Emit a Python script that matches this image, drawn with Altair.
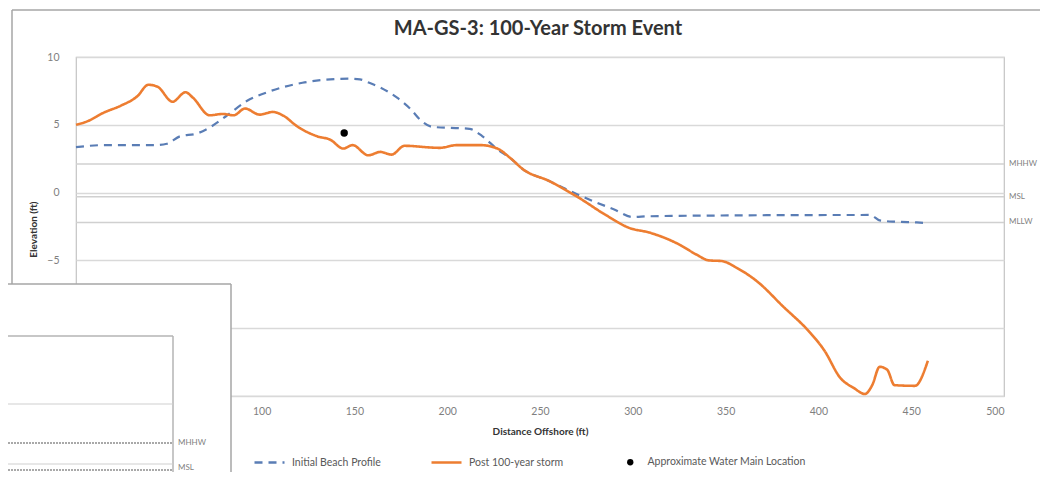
import altair as alt
import pandas as pd

TITLE = "MA-GS-3: 100-Year Storm Event"
X_TITLE = "Distance Offshore (ft)"
Y_TITLE = "Elevation (ft)"

SERIES = ["Initial Beach Profile", "Post 100-year storm"]
SERIES_COLORS = ["#5a7db5", "#ed7d31"]
POINT_LABEL = "Approximate Water Main Location"

INIT_X = [0, 15, 42, 49, 56, 65, 72, 81, 92, 104, 122, 137, 147, 153, 158, 164, 173, 180,
          186, 192, 212, 219, 227, 234, 241, 255, 268, 279, 290, 300, 308, 336, 428, 433,
          442, 453, 459]
INIT_Y = [3.35, 3.5, 3.5, 3.6, 4.15, 4.35, 4.8, 5.65, 6.75, 7.45, 8.1, 8.35, 8.4, 8.35, 8.1,
          7.75, 7.0, 6.2, 5.3, 4.85, 4.7, 4.15, 3.2, 2.55, 1.7, 0.85, 0.0, -0.65, -1.25, -1.8,
          -1.75, -1.7, -1.65, -2.05, -2.15, -2.2, -2.25]

POST_X = [0, 6, 15, 24, 33, 39, 44, 52, 59, 63, 72, 79, 85, 91, 99, 106, 112, 119, 130, 137,
          144, 149, 157.5, 164, 170, 177, 196, 205, 218, 227, 234, 241, 255, 270, 286, 298,
          309, 326, 334, 341, 348, 356, 367, 381, 395, 403, 412, 419, 425, 429, 433, 437,
          441, 452, 459]
POST_Y = [5.0, 5.25, 5.9, 6.4, 7.1, 7.95, 7.8, 6.7, 7.4, 7.0, 5.7, 5.8, 5.7, 6.2, 5.75, 5.95,
          5.65, 4.9, 4.15, 3.9, 3.25, 3.5, 2.75, 3.0, 2.8, 3.45, 3.3, 3.5, 3.5, 3.25, 2.55,
          1.7, 0.85, -0.3, -1.7, -2.6, -2.95, -3.9, -4.55, -5.0, -5.05, -5.55, -6.55, -8.4,
          -10.25, -11.6, -13.7, -14.4, -14.85, -14.2, -12.85, -13.05, -14.2, -14.25, -12.4]

MAIN_X = [144.5]
MAIN_Y = [4.4]

REF_NAMES = ["MHHW", "MSL", "MLLW"]
REF_Y = [2.1, -0.3, -2.2]

X_TICKS = [0, 50, 100, 150, 200, 250, 300, 350, 400, 450, 500]
Y_TICKS = [-15, -10, -5, 0, 5, 10]

INSET_LABELS = ["MHHW", "MSL"]

FONT = "Lato"

lines_df = pd.concat([
    pd.DataFrame({"x": INIT_X, "y": INIT_Y, "series": SERIES[0], "order": range(len(INIT_X))}),
    pd.DataFrame({"x": POST_X, "y": POST_Y, "series": SERIES[1], "order": range(len(POST_X))}),
], ignore_index=True)
point_df = pd.DataFrame({"x": MAIN_X, "y": MAIN_Y, "label": [POINT_LABEL]})
ref_df = pd.DataFrame({"name": REF_NAMES, "y": REF_Y})
one = pd.DataFrame({"k": [0]})
title_df = pd.DataFrame({"t": [TITLE]})

x_enc = alt.X(
    "x:Q",
    scale=alt.Scale(domain=[0, 500], nice=False, zero=False),
    axis=alt.Axis(values=X_TICKS, title=X_TITLE, grid=False, domain=False, ticks=False,
                  tickSize=0, labelPadding=10, labelFontSize=10.5, labelColor="#7f7f7f",
                  labelFont=FONT, titleFont=FONT, titleFontSize=10, titleFontWeight="bold",
                  titleColor="#333333", titlePadding=10),
)
y_enc = alt.Y(
    "y:Q",
    scale=alt.Scale(domain=[-15, 10], nice=False, zero=False),
    axis=alt.Axis(values=Y_TICKS, title=Y_TITLE, grid=True, gridColor="#d9d9d9",
                  gridWidth=1.5, domain=False, ticks=False, tickSize=0, labelPadding=17,
                  labelFontSize=10.5, labelColor="#7f7f7f", labelFont=FONT, titleFont=FONT,
                  titleFontSize=10, titleFontWeight="bold", titleColor="#333333",
                  titleX=-38, titleY=172),
)

line_legend = alt.Legend(
    title=None, orient="none", legendX=177, legendY=389, direction="horizontal",
    symbolType="stroke", symbolSize=900, symbolStrokeWidth=2.5, labelFontSize=10.5,
    labelColor="#595959", labelFont=FONT, labelOffset=6, columnPadding=45, padding=0,
    labelLimit=300,
)

GRAY_BORDER = "#a6a6a6"
INSET_LEFT = -200


def hrule(x1, x2, y, color, width=1.5, dash=None):
    kw = dict(color=color, strokeWidth=width)
    if dash is not None:
        kw["strokeDash"] = dash
    return alt.Chart(one).mark_rule(**kw).encode(x=alt.value(x1), x2=alt.value(x2), y=alt.value(y))


def vrule(x, y1, y2, color, width=1.5):
    return alt.Chart(one).mark_rule(color=color, strokeWidth=width).encode(
        x=alt.value(x), y=alt.value(y1), y2=alt.value(y2))


# outer chart-area border (top and left edges visible)
outer_top = hrule(-64, 1100, -47, GRAY_BORDER)
outer_left = vrule(-64, -47, 227, GRAY_BORDER)

ref_rules = alt.Chart(ref_df).mark_rule(color="#d0d0d0", strokeWidth=1.5).encode(y=y_enc)
ref_text = alt.Chart(ref_df).mark_text(
    align="left", baseline="middle", dx=5, fontSize=8, font=FONT, color="#7f7f7f"
).encode(x=alt.datum(500), y=y_enc, text="name:N")

lines = alt.Chart(lines_df).mark_line(interpolate="monotone").encode(
    x=x_enc,
    y=y_enc,
    order="order:Q",
    stroke=alt.Stroke("series:N", scale=alt.Scale(domain=SERIES, range=SERIES_COLORS),
                      legend=line_legend),
    strokeDash=alt.StrokeDash("series:N", scale=alt.Scale(domain=SERIES, range=[[8, 6], [1, 0]]),
                              legend=line_legend),
    strokeWidth=alt.condition(alt.datum.series == SERIES[0], alt.value(2.2), alt.value(2.6)),
)

point = alt.Chart(point_df).mark_circle(size=55, opacity=1).encode(
    x=x_enc,
    y=y_enc,
    fill=alt.Fill("label:N", scale=alt.Scale(domain=[POINT_LABEL], range=["#000000"]),
                  legend=alt.Legend(title=None, orient="none", legendX=549, legendY=400,
                                    direction="horizontal", symbolType="circle", symbolSize=40,
                                    symbolStrokeWidth=0, labelFontSize=10.5, labelColor="#595959",
                                    labelFont=FONT, labelOffset=12, padding=0, labelLimit=300)),
)

# overlapping inset panel in the lower-left corner
inset_fill = alt.Chart(one).mark_rect(fill="white", strokeWidth=0).encode(
    x=alt.value(INSET_LEFT), x2=alt.value(155), y=alt.value(227), y2=alt.value(460)
)
inset_top = hrule(INSET_LEFT, 155, 227, GRAY_BORDER)
inset_right = vrule(155, 227, 460, GRAY_BORDER)
frame_top = hrule(INSET_LEFT, 97, 279, "#b4b4b4")
frame_right = vrule(97, 279, 460, "#b4b4b4")
inset_grid = hrule(INSET_LEFT, 97, 347, "#cfcfcf", 1.2)
inset_grid2 = hrule(INSET_LEFT, 97, 407, "#cfcfcf", 1.2)
inset_mhhw = hrule(INSET_LEFT, 97, 386, "#555555", 1.2, [2, 1])
inset_msl = hrule(INSET_LEFT, 97, 413, "#555555", 1.2, [2, 1])
inset_t1 = alt.Chart(pd.DataFrame({"t": [INSET_LABELS[0]]})).mark_text(
    align="left", baseline="middle", fontSize=8, font=FONT, color="#7f7f7f"
).encode(x=alt.value(102), y=alt.value(386), text="t:N")
inset_t2 = alt.Chart(pd.DataFrame({"t": [INSET_LABELS[1]]})).mark_text(
    align="left", baseline="middle", fontSize=8, font=FONT, color="#7f7f7f"
).encode(x=alt.value(102), y=alt.value(411), text="t:N")

title = alt.Chart(title_df).mark_text(
    align="center", baseline="middle", fontSize=20, fontWeight="bold", font=FONT, color="#333333"
).encode(x=alt.value(462), y=alt.value(-28), text="t:N")

chart = alt.layer(
    outer_top, outer_left, ref_rules, ref_text, lines, point,
    inset_fill, inset_top, inset_right, frame_top, frame_right, inset_grid, inset_grid2,
    inset_mhhw, inset_msl, inset_t1, inset_t2,
    title,
).properties(
    width=928,
    height=339,
    autosize=alt.AutoSizeParams(type="none"),
    padding={"left": 68, "top": 49, "right": 36, "bottom": 76},
    background="white",
).configure_view(
    stroke="#c4c4c4", strokeWidth=1.2
)

chart.save("out.html", embed_options={"renderer": "svg", "actions": False})
